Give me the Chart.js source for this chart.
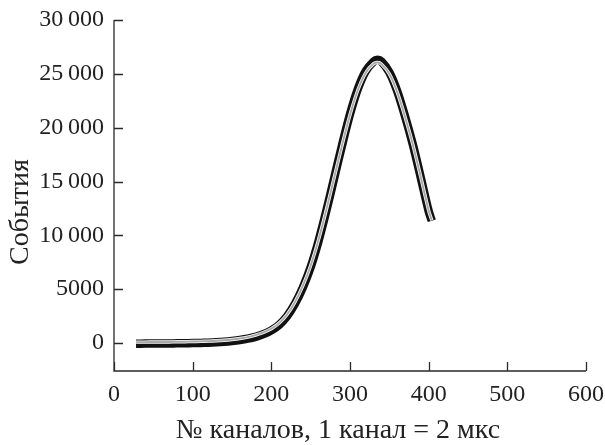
<!DOCTYPE html>
<html>
<head>
<meta charset="utf-8">
<script src="https://cdn.jsdelivr.net/npm/chart.js@4.4.0/dist/chart.umd.min.js"></script>
<style>
html,body{margin:0;padding:0;background:#fff;}
#wrap{width:605px;height:445px;}
</style>
</head>
<body>
<div id="wrap"><canvas id="c" width="605" height="445"></canvas></div>
<script>
// Channel numbers
const channels = [28,40,50,60,70,80,90,100,110,120,130,140,150,160,170,180,190,200,210,220,230,240,250,260,270,280,290,300,310,320,330,335,340,350,360,370,380,390,400,404];
// Measured counts (black)
const measured = [-60,-55,-50,-45,-40,-30,-20,-5,10,35,70,120,190,280,400,570,820,1170,1690,2490,3640,5150,7050,9470,12300,15350,18400,21250,23600,25250,26150,26300,26150,25150,23400,21050,18400,15350,12250,11350];
// Fitted curve (grey)
const fitted = [80,85,90,95,100,110,120,135,150,175,210,260,330,420,550,730,980,1330,1850,2650,3800,5300,7200,9600,12400,15400,18400,21200,23500,25100,25950,26050,25900,25000,23300,21000,18400,15400,12300,11400];

const xTicks = [0,100,200,300,400,500,600];
const xTickLabels = ['0','100','200','300','400','500','600'];
const yTicks = [0,5000,10000,15000,20000,25000,30000];
const yTickLabels = ['0','5000','10\u2009000','15\u2009000','20\u2009000','25\u2009000','30\u2009000'];

const xTitle = '№ каналов, 1 канал = 2 мкс';
const yTitle = 'События';

const FONT = "'Liberation Serif', 'Times New Roman', serif";
const AXIS = '#2a2a2a';

const pts = (ys) => channels.map((x,i)=>({x:x,y:ys[i]}));

const decor = {
  id:'decor',
  afterDraw(chart){
    const ctx = chart.ctx;
    const xs = chart.scales.x, ys = chart.scales.y;
    const a = chart.chartArea;
    ctx.save();
    ctx.strokeStyle = AXIS;
    ctx.lineWidth = 1.3;
    ctx.beginPath();
    ctx.moveTo(a.left, a.top); ctx.lineTo(a.left, a.bottom); ctx.lineTo(a.right, a.bottom);
    yTicks.forEach(v=>{const p=Math.round(ys.getPixelForValue(v))+0.5; ctx.moveTo(a.left,p); ctx.lineTo(a.left+9,p);});
    xTicks.forEach(v=>{const p=Math.round(xs.getPixelForValue(v))+0.5; ctx.moveTo(p,a.bottom); ctx.lineTo(p,a.bottom-9);});
    ctx.stroke();
    ctx.fillStyle = '#222';
    ctx.textAlign = 'center';
    ctx.textBaseline = 'middle';
    ctx.font = '28px ' + FONT;
    ctx.fillText(xTitle, 338, 431);
    ctx.font = '28px ' + FONT;
    ctx.translate(21, 212);
    ctx.rotate(-Math.PI/2);
    ctx.fillText(yTitle, 0, 0);
    ctx.restore();
  }
};

new Chart(document.getElementById('c'), {
  type:'line',
  data:{
    datasets:[
      {label:'measured', data:pts(measured), borderColor:'#111', borderWidth:8.5, pointRadius:0, tension:0.3, order:3, borderCapStyle:'butt'},
      {label:'fit-edge', data:pts(fitted), borderColor:'#ffffff', borderWidth:3.4, pointRadius:0, tension:0.3, order:2},
      {label:'fit', data:pts(fitted), borderColor:'#a8a8a8', borderWidth:1.9, pointRadius:0, tension:0.3, order:1}
    ]
  },
  options:{
    responsive:false,
    animation:false,
    devicePixelRatio:1,
    layout:{padding:{top:20,right:19,left:0,bottom:0}},
    plugins:{legend:{display:false}, tooltip:{enabled:false}},
    scales:{
      x:{
        type:'linear', min:0, max:600,
        afterBuildTicks(s){ s.ticks = xTicks.map(v=>({value:v})); },
        afterFit(s){ s.height = 74; s.paddingLeft = 0; s.paddingRight = 0; },
        grid:{display:false, drawTicks:false},
        border:{display:false},
        ticks:{padding:9, color:'#222', font:{family:FONT, size:24}, maxRotation:0,
          callback(v){ const i = xTicks.indexOf(v); return i>=0 ? xTickLabels[i] : ''; }}
      },
      y:{
        type:'linear', min:-2600, max:30000,
        afterBuildTicks(s){ s.ticks = yTicks.map(v=>({value:v})); },
        afterFit(s){ s.width = 114; s.paddingTop = 0; s.paddingBottom = 0; },
        grid:{display:false, drawTicks:false},
        border:{display:false},
        ticks:{padding:10, color:'#222', font:{family:FONT, size:24},
          callback(v){ const i = yTicks.indexOf(v); return i>=0 ? yTickLabels[i] : ''; }}
      }
    }
  },
  plugins:[decor]
});
</script>
</body>
</html>
